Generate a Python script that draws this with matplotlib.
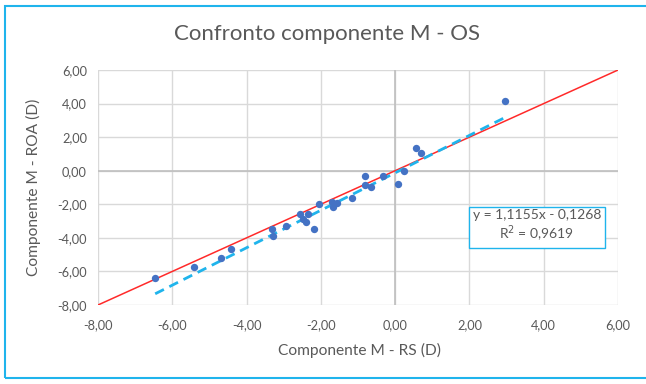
import matplotlib.pyplot as plt
from matplotlib.patches import Rectangle

plt.rcParams['font.family'] = ['Lato', 'DejaVu Sans']

# Data
rs_x = [-6.46, -5.42, -4.68, -4.41, -3.31, -3.29, -2.95, -2.55, -2.48, -2.41,
        -2.34, -2.19, -2.06, -1.70, -1.68, -1.56, -1.16, -0.81, -0.80, -0.66,
        -0.33, 0.09, 0.23, 0.57, 0.70, 2.97]
roa_y = [-6.39, -5.74, -5.19, -4.66, -3.48, -3.87, -3.28, -2.60, -2.85, -3.05,
         -2.60, -3.48, -2.00, -1.87, -2.14, -1.91, -1.65, -0.29, -0.83, -0.98,
         -0.29, -0.77, 0.00, 1.38, 1.08, 4.15]
slope = 1.1155
intercept = -0.1268
r2 = 0.9619
ticks = [-8, -6, -4, -2, 0, 2, 4, 6]

gray = '#595959'

fig = plt.figure(figsize=(6.46, 3.84), dpi=100)
ax = fig.add_axes([98 / 646, 1 - 305 / 384, 520 / 646, 235 / 384])

# identity line y = x
ax.plot([-8, 6], [-8, 6], color='#ff2a2a', linewidth=1.1, zorder=3)

# linear trendline over data range
x0, x1 = min(rs_x), max(rs_x)
ax.plot([x0, x1], [slope * x0 + intercept, slope * x1 + intercept],
        color='#1fb4ec', linewidth=2.0, linestyle=(0, (3.5, 2.2)), zorder=3)

ax.scatter(rs_x, roa_y, s=28, color='#4472c4', zorder=4, linewidths=0)

ax.set_xlim(-8, 6)
ax.set_ylim(-8, 6)
ax.set_xticks(ticks)
ax.set_yticks(ticks)
fmt = lambda v: f'{v:.2f}'.replace('.', ',')
ax.set_xticklabels([fmt(t) for t in ticks])
ax.set_yticklabels([fmt(t) for t in ticks])
ax.tick_params(length=0, labelsize=9.2, labelcolor=gray, pad=10)
ax.tick_params(axis='y', pad=8)

for s in ax.spines.values():
    s.set_visible(False)
ax.grid(True, color='#d9d9d9', linewidth=1.0)
ax.set_axisbelow(True)
ax.axhline(0, color='#bfbfbf', linewidth=1.2, zorder=1)
ax.axvline(0, color='#bfbfbf', linewidth=1.2, zorder=1)

# axis titles and chart title
fig.text(359 / 646, 1 - 350 / 384, 'Componente M - RS (D)', fontsize=11.2,
         color=gray, ha='center', va='center')
fig.text(33 / 646, 1 - 187 / 384, 'Componente M - ROA (D)', fontsize=11.2,
         color=gray, ha='center', va='center', rotation=90)
fig.text(327 / 646, 1 - 34 / 384, 'Confronto componente M - OS', fontsize=16,
         color=gray, ha='center', va='center')

# equation box
ax.text(0.844, 0.334, f'y = {slope:.4f}x - {abs(intercept):.4f}\nR$^2$ = {r2:.4f}'.replace('.', ','),
        transform=ax.transAxes, fontsize=10, color=gray, ha='center', va='center',
        linespacing=1.2,
        bbox=dict(boxstyle='square,pad=0.3', facecolor='white', edgecolor='#1fb4ec', linewidth=1.0),
        zorder=5)

# outer frame
fig.patches.append(Rectangle((5 / 646, 6 / 384), 660 / 646, 372 / 384, transform=fig.transFigure,
                             fill=False, edgecolor='#1fb4ec', linewidth=1.5))

fig.savefig('out.png', dpi=100)
